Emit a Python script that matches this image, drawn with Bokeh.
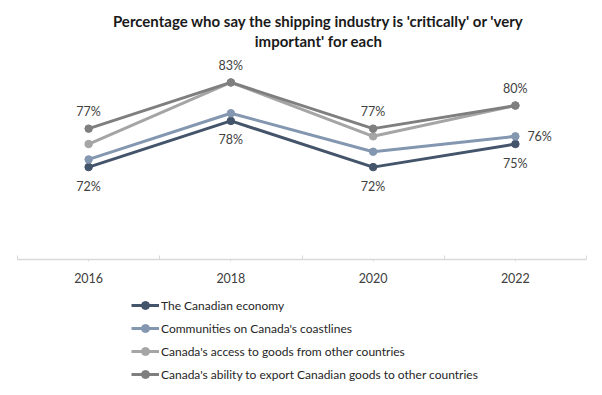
from bokeh.plotting import figure
from bokeh.models import FixedTicker, Legend, LegendItem, Label, Range1d
from bokeh.layouts import column
from bokeh.embed import file_html
from bokeh.resources import INLINE
from bokeh.core.properties import value

years = [2016, 2018, 2020, 2022]
boundaries = [2015, 2017, 2019, 2021, 2023]
title_lines = ["Percentage who say the shipping industry is 'critically' or 'very",
               "important' for each"]
series_names = ["The Canadian economy",
                "Communities on Canada's coastlines",
                "Canada's access to goods from other countries",
                "Canada's ability to export Canadian goods to other countries"]
economy = [72, 78, 72, 75]
communities = [73, 79, 74, 76]
access = [75, 83, 76, 80]
export = [77, 83, 77, 80]
colors = ["#44546A", "#8497B0", "#A5A5A5", "#7F7F7F"]

FONT = "Lato"
TXT = "#404040"

# title panel
tf = figure(width=594, height=55, output_backend="svg", toolbar_location=None,
            x_axis_location=None, y_axis_location=None, min_border=0,
            x_range=Range1d(0, 1), y_range=Range1d(0, 1))
tf.outline_line_color = None
tf.grid.visible = False
for i, line in enumerate(title_lines):
    tf.add_layout(Label(x=301, y=35 - 20 * i, x_units="screen", y_units="screen",
                        text=line, text_align="center", text_baseline="middle",
                        text_font=FONT, text_font_style="bold", text_font_size="15px",
                        text_color="#1A1A1A"))

p = figure(width=594, height=235, output_backend="svg", toolbar_location=None,
           x_range=Range1d(2015, 2023), y_range=Range1d(60, 86.5),
           y_axis_location=None,
           min_border_left=17, min_border_right=8, min_border_top=0, min_border_bottom=31)
p.outline_line_color = None
p.grid.visible = False

ax = p.xaxis[0]
ax.ticker = FixedTicker(ticks=years, minor_ticks=boundaries)
ax.axis_line_color = "#D9D9D9"
ax.axis_line_width = 1.5
ax.major_tick_line_color = "#D9D9D9"
ax.major_tick_in = 0
ax.major_tick_out = 2
ax.minor_tick_line_color = "#D9D9D9"
ax.minor_tick_in = 4
ax.minor_tick_out = 0
ax.major_label_text_font = FONT
ax.major_label_text_font_size = "12.5px"
ax.major_label_text_color = TXT
ax.major_label_standoff = 11

all_series = [economy, communities, access, export]
for vals, col in zip(all_series, colors):
    p.line(years, vals, line_width=3, line_color=col)
    p.scatter(years, vals, size=7.5, fill_color=col, line_color=col)

# data labels
p.text(years, export, text=[f"{v}%" for v in export], y_offset=-17,
       text_align="center", text_baseline="middle", text_font=value(FONT),
       text_font_size="12.5px", text_color=TXT)
p.text(years, economy, text=[f"{v}%" for v in economy], y_offset=19,
       text_align="center", text_baseline="middle", text_font=value(FONT),
       text_font_size="12.5px", text_color=TXT)
p.text(years[-1:], communities[-1:], text=[f"{communities[-1]}%"], x_offset=12,
       text_align="left", text_baseline="middle", text_font=value(FONT),
       text_font_size="12.5px", text_color=TXT)

# legend panel below the chart (series drawn out of view, used only for the legend)
lg = figure(width=594, height=96, output_backend="svg", toolbar_location=None,
            x_axis_location=None, y_axis_location=None, min_border=0,
            x_range=Range1d(0, 1), y_range=Range1d(0, 1))
lg.outline_line_color = None
lg.grid.visible = False
items = []
for name, vals, col in zip(series_names, all_series, colors):
    l = lg.line(years, vals, line_width=3, line_color=col)
    s = lg.scatter(years, vals, size=7.5, fill_color=col, line_color=col)
    items.append(LegendItem(label=name, renderers=[l, s]))
legend = Legend(items=items, orientation="vertical", location=(114, 2),
                glyph_width=28, glyph_height=20, label_height=20, spacing=3,
                label_standoff=2, padding=0, margin=0, border_line_color=None,
                background_fill_alpha=0,
                label_text_font=FONT, label_text_font_size="12px", label_text_color="#262626")
lg.add_layout(legend, "center")

layout = column(tf, p, lg, spacing=0)
open("out.html", "w").write(file_html(layout, INLINE))
